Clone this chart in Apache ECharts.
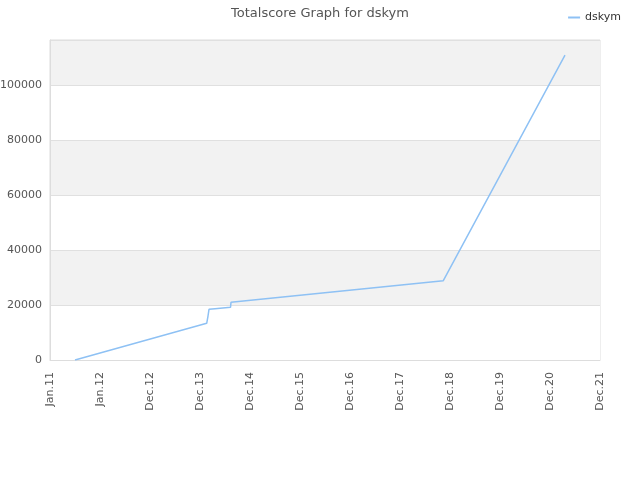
<!DOCTYPE html>
<html><head><meta charset="utf-8">
<script src="https://cdn.jsdelivr.net/npm/echarts@6/dist/echarts.min.js"></script>
<style>html,body{margin:0;padding:0;background:#fff}#c{width:640px;height:480px}</style>
</head><body><div id="c"></div>
<script>
var xTickLabels = ['Jan.11','Jan.12','Dec.12','Dec.13','Dec.14','Dec.15','Dec.16','Dec.17','Dec.18','Dec.19','Dec.20','Dec.21'];
// x positions in tick units (years since Jan.11), scores
var seriesX = [0.5, 3.134, 3.16, 3.18, 3.30, 3.334, 3.61, 3.62, 3.64, 7.866, 10.3];
var seriesY = [0, 13345, 16000, 18436, 18655, 19018, 19164, 20982, 21270, 28836, 110909];
var seriesName = 'dskym';

var data = seriesX.map(function(x,i){return [x, seriesY[i]];});
var chart = echarts.init(document.getElementById('c'));
chart.setOption({
  animation:false,
  title:{text:'Totalscore Graph for dskym', left:'center', top:2, textStyle:{fontSize:13, fontWeight:'normal', color:'#555', fontFamily:'DejaVu Sans'}},
  legend:{right:14, top:7, icon:'rect', itemWidth:12, itemHeight:2, itemGap:8, textStyle:{fontSize:11,color:'#333',fontFamily:'DejaVu Sans'}, data:[seriesName]},
  grid:{left:50, right:40, top:40, bottom:120, show:true, borderColor:'#ddd', borderWidth:1, outerBoundsMode:'none', containLabel:false},
  xAxis:{type:'value', min:0, max:11, interval:1,
    axisLine:{lineStyle:{color:'#ddd'}}, axisTick:{show:false}, splitLine:{show:false},
    axisLabel:{rotate:90, fontSize:11, color:'#555', fontFamily:'DejaVu Sans', margin:12,
      formatter:function(v){return xTickLabels[Math.round(v)]||'';}}},
  yAxis:{type:'value', min:0, max:116400, interval:20000,
    axisLine:{show:true, lineStyle:{color:'#ddd'}}, axisTick:{show:false},
    splitLine:{lineStyle:{color:'#e0e0e0'}},
    splitArea:{show:true, areaStyle:{color:['#ffffff','#f2f2f2']}},
    axisLabel:{fontSize:11, color:'#555', fontFamily:'DejaVu Sans',
      formatter:function(v){return v%20000===0? String(v):'';}}},
  series:[{name:seriesName, type:'line', data:data, showSymbol:false, symbol:'none',
    lineStyle:{color:'#8ec1f4', width:1.5}, itemStyle:{color:'#8ec1f4'}}]
});
</script></body></html>
